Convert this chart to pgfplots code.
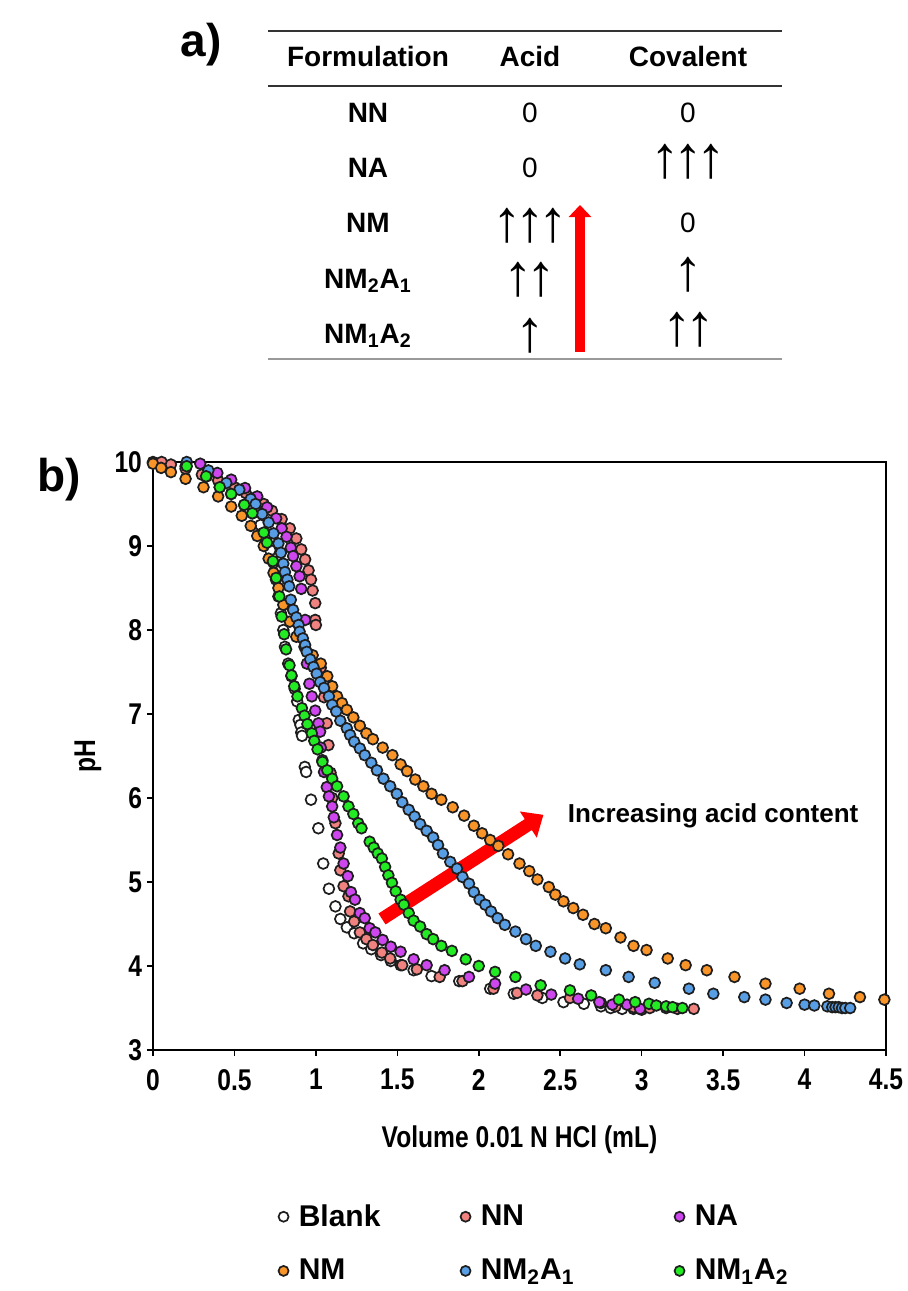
\documentclass[border=0pt]{standalone}
\usepackage{fontspec}
\setmainfont{Liberation Sans}
\newfontfamily\narrowfont[FakeStretch=0.82]{Liberation Sans}
\usepackage{graphicx}
\usepackage{pgfplots}
\pgfplotsset{compat=1.18}
\usetikzlibrary{arrows.meta}
\definecolor{cOrange}{RGB}{248,148,40}
\definecolor{cBlue}{RGB}{88,158,228}
\definecolor{cGreen}{RGB}{35,235,35}
\definecolor{cPurple}{RGB}{205,70,238}
\definecolor{cPink}{RGB}{240,130,128}
\definecolor{cEdge}{RGB}{30,30,30}
\newcommand{\up}{\makebox[11.5pt]{\resizebox*{!}{17.5pt}{↑}}}
\begin{document}
\begin{tikzpicture}[x=1pt,y=1pt]
\path[use as bounding box] (0,0) rectangle (453.5,-645.5);
% ---------------- panel a (table) ----------------
\node[font=\bfseries\fontsize{23}{23}\selectfont] at (100.5,-22.5) {a)};
\draw[line width=1.1pt, black!80] (134,-15.5) -- (391,-15.5);
\draw[line width=1.1pt, black!80] (134,-42.8) -- (391,-42.8);
\draw[line width=0.6pt, black!40] (134,-179.5) -- (391,-179.5);
\begin{scope}[every node/.style={anchor=base, font=\bfseries\fontsize{14}{14}\selectfont}]
\node at (184,-33.3) {Formulation};
\node at (265,-33.3) {Acid};
\node at (344,-33.3) {Covalent};
\node at (184,-61) {NN};
\node at (184,-88.5) {NA};
\node at (184,-116) {NM};
\node at (184,-144) {NM\textsubscript{2}A\textsubscript{1}};
\node at (184,-171.5) {NM\textsubscript{1}A\textsubscript{2}};
\end{scope}
\begin{scope}[every node/.style={anchor=base, font=\fontsize{14}{14}\selectfont}]
\node at (265,-61) {0};
\node at (344,-61) {0};
\node at (265,-88.5) {0};
\node at (344,-116) {0};
\end{scope}
\begin{scope}[every node/.style={anchor=center, inner sep=0pt}]
\node at (265,-113) {\up\up\up};
\node at (264.75,-140) {\up\up};
\node at (265,-168) {\up};
\node at (344,-80.75) {\up\up\up};
\node at (344,-137.5) {\up};
\node at (344.25,-165) {\up\up};
\end{scope}
\draw[red, line width=5pt, -{Triangle[width=11pt,length=6pt]}] (290,-176) -- (290,-102.5);
% ---------------- panel b ----------------
\node[font=\bfseries\fontsize{23}{23}\selectfont] at (29.5,-240) {b)};
\begin{axis}[
  at={(76.5pt,-525pt)}, anchor=south west,
  scale only axis, width=366.5pt, height=294pt,
  xmin=0, xmax=4.5, ymin=3, ymax=10,
  xtick={0,0.5,1,1.5,2,2.5,3,3.5,4,4.5},
  ytick={3,4,5,6,7,8,9,10},
  xtick pos=lower, ytick pos=left,
  tick align=outside, major tick length=3pt,
  axis line style={line width=0.9pt, black},
  tick style={line width=0.8pt, black},
  /pgf/number format/assume math mode=true,
  ticklabel style={font=\narrowfont\bfseries\fontsize{15}{15}\selectfont},
  xticklabel style={yshift=-3pt},
  yticklabel style={xshift=1pt},
  xlabel={Volume 0.01 N HCl (mL)},
  ylabel={pH},
  every axis x label/.style={at={(axis description cs:0.5,-0.153)}, anchor=center, font=\narrowfont\bfseries\fontsize{15}{15}\selectfont},
  every axis y label/.style={at={(axis description cs:-0.0887,0.5)}, anchor=center, rotate=90, font=\narrowfont\bfseries\fontsize{15}{15}\selectfont},
  clip=false,
  mymark/.style={only marks, mark=*, mark size=2.7pt, mark options={draw=cEdge, line width=0.85pt, fill=#1}},
  legend columns=3,
  legend cell align=left,
  legend image code/.code={\draw[#1, mark size=2.5pt] plot coordinates {(0pt,0pt)}; \path[draw=none,fill=none] (-3.4pt,0pt) (7.6pt,0pt);},
  legend style={draw=none, fill=none, inner sep=0pt, column sep=0pt, row sep=11pt,
    at={(axis description cs:0.1683,-0.255)}, anchor=north west,
    font=\bfseries\fontsize{15}{15}\selectfont,
    nodes={inner xsep=0pt}},
]
\draw[red, line width=6.5pt, -{Triangle[width=15pt,length=9pt]}] (axis cs:1.406,4.56) -- (axis cs:2.397,5.80);
\node[anchor=west, font=\bfseries\fontsize{13}{13}\selectfont, inner sep=0pt] at (axis cs:2.545,5.79) {Increasing acid content};
% Blank
\addplot[mymark=white] coordinates {
(0,10.0)(0.05,9.98)(0.2,9.95)(0.33,9.83)(0.41,9.70)(0.48,9.62)(0.56,9.49)(0.61,9.39)(0.66,9.25)(0.69,9.1)(0.72,8.95)(0.74,8.8)(0.755,8.6)(0.77,8.4)(0.785,8.2)(0.80,8.0)(0.81,7.8)(0.83,7.6)(0.85,7.45)(0.87,7.3)(0.885,7.15)(0.895,6.93)(0.905,6.87)(0.91,6.78)(0.915,6.74)(0.932,6.37)(0.94,6.31)(0.97,5.98)(1.015,5.64)(1.045,5.22)(1.08,4.92)(1.12,4.71)(1.15,4.56)(1.19,4.46)(1.235,4.39)(1.29,4.27)(1.34,4.20)(1.40,4.13)(1.46,4.06)(1.52,4.01)(1.6,3.95)(1.71,3.88)(1.88,3.82)(2.07,3.73)(2.215,3.67)(2.39,3.62)(2.52,3.57)(2.645,3.55)(2.75,3.52)(2.81,3.50)(2.88,3.49)(2.95,3.49)(3.0,3.48)
};
\addlegendentry{\makebox[80pt][l]{Blank}}
% NN
\addplot[mymark=cPink] coordinates {
(0,9.99)(0.053,10.0)(0.11,9.97)(0.2,9.92)(0.3,9.85)(0.4,9.78)(0.5,9.7)(0.57,9.63)(0.62,9.57)(0.68,9.5)(0.73,9.42)(0.79,9.32)(0.84,9.21)(0.88,9.09)(0.91,8.96)(0.934,8.84)(0.955,8.71)(0.97,8.6)(0.98,8.47)(0.996,8.32)(0.996,8.12)(1.0,8.06)(1.03,7.55)(1.05,7.2)(1.067,6.89)(1.077,6.63)(1.09,6.3)(1.10,6.0)(1.12,5.7)(1.14,5.34)(1.15,5.14)(1.17,4.95)(1.20,4.83)(1.21,4.65)(1.235,4.53)(1.27,4.40)(1.31,4.32)(1.35,4.25)(1.405,4.16)(1.456,4.09)(1.53,4.01)(1.62,3.96)(1.76,3.87)(1.90,3.82)(2.09,3.73)(2.235,3.68)(2.36,3.65)(2.56,3.62)(2.75,3.56)(2.84,3.52)(2.95,3.51)(3.05,3.50)(3.15,3.50)(3.22,3.49)(3.32,3.49)
};
\addlegendentry{\makebox[96pt][l]{NN}}
% NA
\addplot[mymark=cPurple] coordinates {
(0.29,9.98)(0.395,9.87)(0.48,9.79)(0.565,9.69)(0.64,9.59)(0.70,9.46)(0.756,9.33)(0.79,9.21)(0.82,9.11)(0.846,8.98)(0.86,8.88)(0.88,8.76)(0.90,8.64)(0.91,8.49)(0.934,8.12)(0.945,7.6)(0.96,7.36)(0.975,7.21)(0.996,7.04)(1.016,6.89)(1.026,6.79)(1.03,6.6)(1.04,6.45)(1.05,6.31)(1.067,6.13)(1.08,6.02)(1.10,5.90)(1.11,5.77)(1.13,5.56)(1.15,5.41)(1.17,5.22)(1.196,5.07)(1.215,4.88)(1.24,4.79)(1.27,4.63)(1.30,4.57)(1.33,4.45)(1.365,4.40)(1.41,4.31)(1.46,4.23)(1.52,4.17)(1.60,4.08)(1.68,4.01)(1.79,3.95)(1.94,3.87)(2.10,3.79)(2.29,3.72)(2.445,3.66)(2.61,3.61)(2.74,3.57)(2.82,3.54)(2.91,3.54)(2.99,3.49)
};
\addlegendentry{NA}
% NM
\addplot[mymark=cOrange] coordinates {
(0,9.98)(0.05,9.93)(0.11,9.88)(0.2,9.8)(0.31,9.70)(0.40,9.59)(0.48,9.47)(0.545,9.36)(0.60,9.24)(0.64,9.12)(0.68,9.0)(0.71,8.85)(0.74,8.68)(0.77,8.5)(0.80,8.3)(0.84,8.1)(0.88,7.92)(0.93,7.8)(0.98,7.7)(1.03,7.6)(1.07,7.45)(1.10,7.33)(1.13,7.21)(1.16,7.13)(1.19,7.05)(1.23,6.96)(1.27,6.86)(1.31,6.77)(1.35,6.70)(1.41,6.60)(1.47,6.51)(1.52,6.40)(1.56,6.32)(1.61,6.22)(1.66,6.14)(1.71,6.05)(1.77,5.98)(1.84,5.89)(1.91,5.79)(1.97,5.67)(2.02,5.58)(2.07,5.50)(2.12,5.43)(2.18,5.33)(2.25,5.22)(2.31,5.13)(2.36,5.03)(2.43,4.94)(2.47,4.85)(2.52,4.77)(2.58,4.69)(2.64,4.61)(2.71,4.50)(2.78,4.45)(2.87,4.34)(2.95,4.24)(3.03,4.19)(3.16,4.09)(3.27,4.01)(3.40,3.95)(3.57,3.87)(3.76,3.79)(3.97,3.73)(4.15,3.67)(4.34,3.63)(4.49,3.60)
};
\addlegendentry{\makebox[80pt][l]{NM}}
% NM2A1
\addplot[mymark=cBlue] coordinates {
(0.207,10.0)(0.34,9.90)(0.45,9.75)(0.53,9.67)(0.60,9.56)(0.63,9.50)(0.67,9.38)(0.71,9.28)(0.74,9.15)(0.77,9.03)(0.785,8.92)(0.80,8.79)(0.81,8.69)(0.825,8.60)(0.836,8.52)(0.846,8.36)(0.86,8.24)(0.88,8.15)(0.894,8.06)(0.90,7.98)(0.92,7.90)(0.934,7.82)(0.944,7.74)(0.965,7.65)(0.985,7.56)(1.005,7.48)(1.026,7.38)(1.05,7.31)(1.08,7.21)(1.10,7.11)(1.125,7.03)(1.15,6.92)(1.19,6.83)(1.21,6.75)(1.235,6.67)(1.27,6.59)(1.30,6.51)(1.34,6.42)(1.375,6.33)(1.415,6.23)(1.456,6.14)(1.497,6.05)(1.53,5.95)(1.57,5.86)(1.606,5.78)(1.64,5.69)(1.68,5.61)(1.72,5.53)(1.75,5.44)(1.78,5.34)(1.825,5.24)(1.866,5.16)(1.90,5.06)(1.94,4.98)(1.97,4.88)(2.005,4.79)(2.04,4.73)(2.075,4.65)(2.116,4.57)(2.16,4.49)(2.225,4.41)(2.29,4.32)(2.35,4.24)(2.44,4.17)(2.53,4.09)(2.62,4.02)(2.78,3.95)(2.92,3.87)(3.08,3.80)(3.29,3.73)(3.44,3.67)(3.63,3.63)(3.76,3.60)(3.89,3.56)(4.00,3.54)(4.06,3.53)(4.14,3.52)(4.17,3.51)(4.19,3.51)(4.21,3.51)(4.23,3.50)(4.25,3.50)(4.28,3.50)
};
\addlegendentry{\makebox[96pt][l]{NM\textsubscript{2}A\textsubscript{1}}}
% NM1A2
\addplot[mymark=cGreen] coordinates {
(0.207,9.95)(0.326,9.83)(0.41,9.70)(0.48,9.62)(0.56,9.49)(0.61,9.39)(0.68,9.16)(0.70,9.04)(0.736,8.82)(0.756,8.62)(0.776,8.40)(0.79,8.16)(0.805,7.95)(0.817,7.77)(0.838,7.58)(0.85,7.46)(0.867,7.33)(0.887,7.21)(0.914,7.07)(0.93,6.98)(0.948,6.88)(0.975,6.77)(0.99,6.68)(1.01,6.58)(1.04,6.43)(1.07,6.33)(1.10,6.23)(1.13,6.14)(1.17,6.02)(1.20,5.90)(1.23,5.81)(1.26,5.70)(1.28,5.64)(1.33,5.48)(1.355,5.41)(1.38,5.34)(1.405,5.28)(1.425,5.18)(1.445,5.08)(1.467,4.99)(1.49,4.89)(1.52,4.79)(1.54,4.73)(1.57,4.63)(1.60,4.54)(1.64,4.47)(1.68,4.38)(1.72,4.32)(1.77,4.24)(1.835,4.18)(1.92,4.08)(2.00,4.00)(2.10,3.93)(2.225,3.87)(2.38,3.77)(2.56,3.71)(2.69,3.65)(2.86,3.60)(2.96,3.57)(3.045,3.55)(3.09,3.53)(3.15,3.52)(3.19,3.51)(3.25,3.50)
};
\addlegendentry{NM\textsubscript{1}A\textsubscript{2}}
\end{axis}
\end{tikzpicture}
\end{document}
